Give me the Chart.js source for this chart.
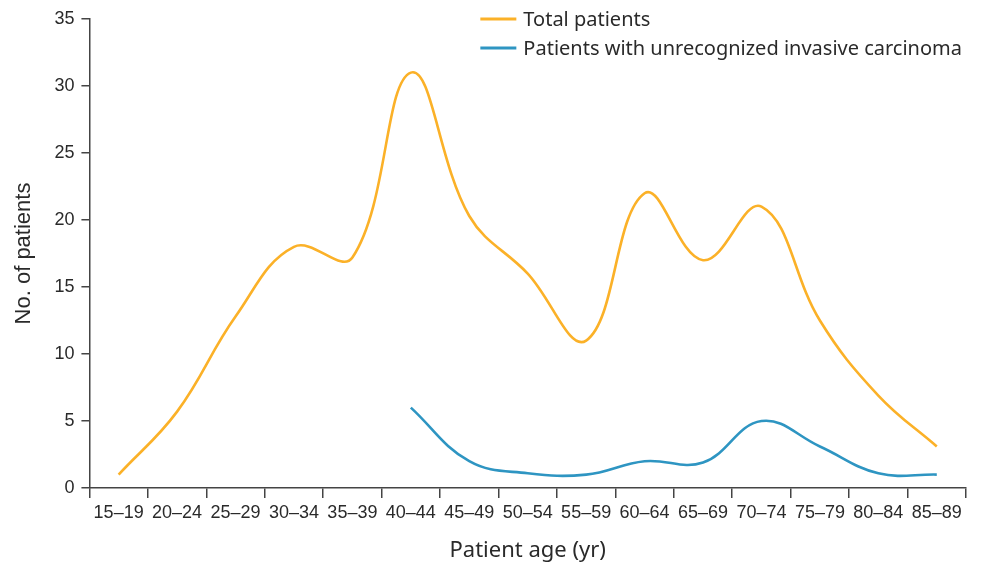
<!DOCTYPE html>
<html>
<head>
<meta charset="utf-8">
<script src="https://cdn.jsdelivr.net/npm/chart.js@4/dist/chart.umd.min.js"></script>
<style>
  html, body { margin: 0; padding: 0; background: #ffffff; }
  #wrap { width: 982px; height: 564px; }
</style>
</head>
<body>
<div id="wrap"><canvas id="c" width="982" height="564"></canvas></div>
<script>
// ---- data ----
const ageGroups = ['15–19','20–24','25–29','30–34','35–39','40–44','45–49','50–54','55–59','60–64','65–69','70–74','75–79','80–84','85–89'];
const totalPatients = [1, 5.7, 12.8, 18, 17.2, 31, 20.3, 16, 11, 22, 17, 21, 12.5, 6.9, 3.1];
const unrecognizedInvasive = [null, null, null, null, null, 6, 2, 1.1, 1, 2, 1.9, 5, 3.1, 1.1, 1];
const seriesNames = ['Total patients', 'Patients with unrecognized invasive carcinoma'];
const yTicks = [0, 5, 10, 15, 20, 25, 30, 35];

const ORANGE = '#FBB128';
const BLUE = '#2E95C2';
const AXIS = '#444444';
const TEXT = '#2a2a2a';

const legendPlugin = {
  id: 'cornerLegend',
  afterDraw(chart) {
    const ctx = chart.ctx;
    const area = chart.chartArea;
    ctx.save();
    ctx.font = '20px "Noto Sans"';
    const ds = chart.data.datasets;
    let maxW = 0;
    ds.forEach(d => { maxW = Math.max(maxW, ctx.measureText(d.label).width); });
    const textX = area.right - 4 - maxW;
    ds.forEach((d, i) => {
      const y = area.top + i * 29;
      ctx.strokeStyle = d.borderColor;
      ctx.lineWidth = 3;
      ctx.beginPath();
      ctx.moveTo(textX - 43, y);
      ctx.lineTo(textX - 7, y);
      ctx.stroke();
      ctx.fillStyle = TEXT;
      ctx.textBaseline = 'middle';
      ctx.textAlign = 'left';
      ctx.fillText(d.label, textX, y + 1);
    });
    ctx.restore();
  }
};

new Chart(document.getElementById('c'), {
  type: 'line',
  data: {
    labels: ageGroups,
    datasets: [
      { label: seriesNames[0], data: totalPatients, borderColor: ORANGE, backgroundColor: ORANGE,
        borderWidth: 2.6, pointRadius: 0, tension: 0.4, fill: false },
      { label: seriesNames[1], data: unrecognizedInvasive, borderColor: BLUE, backgroundColor: BLUE,
        borderWidth: 2.6, pointRadius: 0, tension: 0.4, fill: false, spanGaps: false }
    ]
  },
  options: {
    responsive: false,
    animation: false,
    devicePixelRatio: 1,
    layout: { padding: { left: 0, right: 16, top: 19, bottom: 0 } },
    plugins: {
      legend: { display: false },
      tooltip: { enabled: false }
    },
    scales: {
      x: {
        type: 'category',
        offset: true,
        grid: { display: true, offset: true, drawOnChartArea: false, drawTicks: true, tickLength: 10, color: AXIS, lineWidth: 1.5 },
        border: { display: true, color: AXIS, width: 1.5 },
        ticks: { color: TEXT, font: { family: '"Liberation Sans", Arial, sans-serif', size: 18 }, padding: 4, maxRotation: 0, autoSkip: false },
        title: { display: true, text: 'Patient age (yr)', color: TEXT, font: { family: '"Noto Sans", sans-serif', size: 22 }, padding: { top: 10, bottom: 0 } }
      },
      y: {
        min: 0, max: 35,
        afterBuildTicks(scale) { scale.ticks = yTicks.map(v => ({ value: v })); },
        grid: { display: true, drawOnChartArea: false, drawTicks: true, tickLength: 8, color: AXIS, lineWidth: 1.5 },
        border: { display: true, color: AXIS, width: 1.5 },
        ticks: { color: TEXT, font: { family: '"Liberation Sans", Arial, sans-serif', size: 18 }, padding: 7 },
        title: { display: true, text: 'No. of patients', color: TEXT, font: { family: '"Liberation Sans", Arial, sans-serif', size: 22 }, padding: { top: 11, bottom: 10 } }
      }
    }
  },
  plugins: [legendPlugin]
});
</script>
</body>
</html>
